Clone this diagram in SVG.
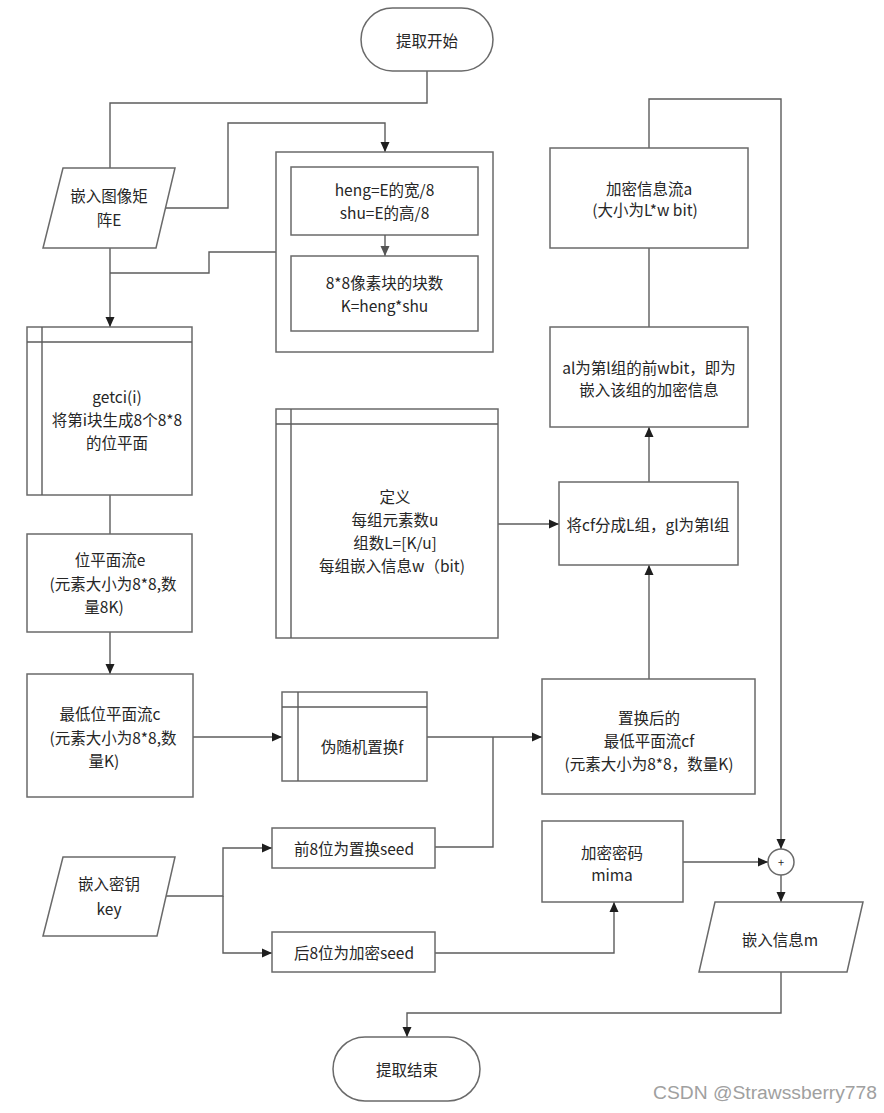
<svg xmlns="http://www.w3.org/2000/svg" width="884" height="1113" viewBox="0 0 884 1113">
<style>
.b{fill:#fff;stroke:#6a6a6a;stroke-width:1.5}
.c{fill:none;stroke:#5c5c5c;stroke-width:1.4}
.t{font-family:"Noto Sans CJK SC","Noto Sans",sans-serif;font-size:15.5px;fill:#262626;text-anchor:middle;dominant-baseline:central}
.w{font-family:"Liberation Sans",Arial,sans-serif;font-size:18px;fill:#a0a0a0}
</style>
<defs>
<marker id="a" markerWidth="10" markerHeight="10" refX="10" refY="5" orient="auto" markerUnits="userSpaceOnUse"><path d="M0,0.5 L10,5 L0,9.5 z" fill="#1e1e1e"/></marker>
<marker id="g" markerWidth="10" markerHeight="10" refX="10" refY="5" orient="auto" markerUnits="userSpaceOnUse"><path d="M0,0.5 L10,5 L0,9.5 z" fill="#555"/></marker>
</defs>
<rect width="884" height="1113" fill="#fff"/>
<g id="connectors">
<path class="c" d="M427,71 V103 H110 V168"/>
<path class="c" d="M165.5,208 H228 V123 H385 V152" marker-end="url(#a)"/>
<path class="c" d="M276,252 H209 V273 H110"/>
<path class="c" d="M110,248 V327" marker-end="url(#a)"/>
<path class="c" d="M110,495 V534"/>
<path class="c" d="M110,632 V674" marker-end="url(#a)"/>
<path class="c" d="M193,737 H282" marker-end="url(#a)"/>
<path class="c" d="M427,737 H542" marker-end="url(#a)"/>
<path class="c" d="M435,847 H493 V737"/>
<path class="c" d="M649,679 V565" marker-end="url(#a)"/>
<path class="c" d="M498,524 H559" marker-end="url(#a)"/>
<path class="c" d="M649,482 V427" marker-end="url(#a)"/>
<path class="c" d="M649,327 V248"/>
<path class="c" d="M649,148 V99 H781 V849" marker-end="url(#a)"/>
<path class="c" d="M781,875 V902" marker-end="url(#a)"/>
<path class="c" d="M683,862 H768" marker-end="url(#a)"/>
<path class="c" d="M435,953 H614 V902" marker-end="url(#a)"/>
<path class="c" d="M166,896 H223 V848 H272" marker-end="url(#a)"/>
<path class="c" d="M223,896 V953 H272" marker-end="url(#a)"/>
<path class="c" d="M781,972 V1013 H407 V1037" marker-end="url(#a)"/>
</g>
<g id="start">
<rect class="b" x="361" y="8" width="132" height="63" rx="31.5"/>
<text class="t" x="427" y="40">提取开始</text>
</g>
<g id="inputE">
<polygon class="b" points="63,168 175,168 156,248 43,248"/>
<text class="t" x="109" y="195">嵌入图像矩</text>
<text class="t" x="109" y="219">阵E</text>
</g>
<g id="calcGroup">
<rect class="b" x="276" y="152" width="217" height="200"/>
<rect class="b" x="291" y="167" width="187" height="68"/>
<text class="t" x="384.5" y="189">heng=E的宽/8</text>
<text class="t" x="384.5" y="212">shu=E的高/8</text>
<path class="c" d="M385,235 V256" marker-end="url(#g)"/>
<rect class="b" x="291" y="256" width="187" height="75"/>
<text class="t" x="384.5" y="282">8*8像素块的块数</text>
<text class="t" x="384.5" y="305">K=heng*shu</text>
</g>
<g id="getci">
<rect class="b" x="27" y="327" width="165" height="168"/>
<path class="c" d="M27,342 H192 M42,327 V495"/>
<text class="t" x="117" y="396">getci(i)</text>
<text class="t" x="117" y="419">将第i块生成8个8*8</text>
<text class="t" x="117" y="442">的位平面</text>
</g>
<g id="streamE">
<rect class="b" x="27" y="534" width="165" height="98"/>
<text class="t" x="110" y="559">位平面流e</text>
<text class="t" x="113" y="583">(元素大小为8*8,数</text>
<text class="t" x="104" y="606">量8K)</text>
</g>
<g id="streamC">
<rect class="b" x="27" y="674" width="166" height="123"/>
<text class="t" x="110" y="713">最低位平面流c</text>
<text class="t" x="113" y="737">(元素大小为8*8,数</text>
<text class="t" x="104" y="760">量K)</text>
</g>
<g id="perm">
<rect class="b" x="282" y="692" width="145" height="89"/>
<path class="c" d="M282,707 H427 M298,692 V781"/>
<text class="t" x="362" y="746">伪随机置换f</text>
</g>
<g id="streamCF">
<rect class="b" x="542" y="679" width="213" height="115"/>
<text class="t" x="649" y="717">置换后的</text>
<text class="t" x="649" y="740">最低平面流cf</text>
<text class="t" x="649" y="763">(元素大小为8*8，数量K)</text>
</g>
<g id="define">
<rect class="b" x="276" y="409" width="222" height="229"/>
<path class="c" d="M276,424 H498 M291,409 V638"/>
<text class="t" x="395" y="496">定义</text>
<text class="t" x="395" y="519">每组元素数u</text>
<text class="t" x="395" y="542">组数L=[K/u]</text>
<text class="t" x="392" y="565">每组嵌入信息w（bit)</text>
</g>
<g id="split">
<rect class="b" x="559" y="482" width="179" height="83"/>
<text class="t" x="648" y="524">将cf分成L组，gl为第l组</text>
</g>
<g id="al">
<rect class="b" x="550" y="327" width="198" height="100"/>
<text class="t" x="649" y="367">al为第l组的前wbit，即为</text>
<text class="t" x="649" y="389">嵌入该组的加密信息</text>
</g>
<g id="streamA">
<rect class="b" x="550" y="148" width="198" height="100"/>
<text class="t" x="649" y="188">加密信息流a</text>
<text class="t" x="645" y="209">(大小为L*w bit)</text>
</g>
<g id="key">
<polygon class="b" points="63,857 175,857 157,936 43,936"/>
<text class="t" x="109" y="883">嵌入密钥</text>
<text class="t" x="109" y="908">key</text>
</g>
<g id="seed1">
<rect class="b" x="272" y="828" width="163" height="40"/>
<text class="t" x="354" y="848">前8位为置换seed</text>
</g>
<g id="seed2">
<rect class="b" x="272" y="932" width="163" height="40"/>
<text class="t" x="354" y="952">后8位为加密seed</text>
</g>
<g id="mima">
<rect class="b" x="542" y="821" width="141" height="81"/>
<text class="t" x="612" y="852">加密密码</text>
<text class="t" x="612" y="874">mima</text>
</g>
<g id="sum">
<circle class="b" cx="781" cy="862" r="13"/>
<text class="t" x="781" y="862" style="font-size:11px">+</text>
</g>
<g id="outputM">
<polygon class="b" points="715,902 863,902 847,972 699,972"/>
<text class="t" x="780" y="939">嵌入信息m</text>
</g>
<g id="end">
<rect class="b" x="333" y="1037" width="147" height="64" rx="32"/>
<text class="t" x="407" y="1069">提取结束</text>
</g>
<text class="w" x="653" y="1099" textLength="224" lengthAdjust="spacingAndGlyphs">CSDN @Strawssberry778</text>
</svg>
